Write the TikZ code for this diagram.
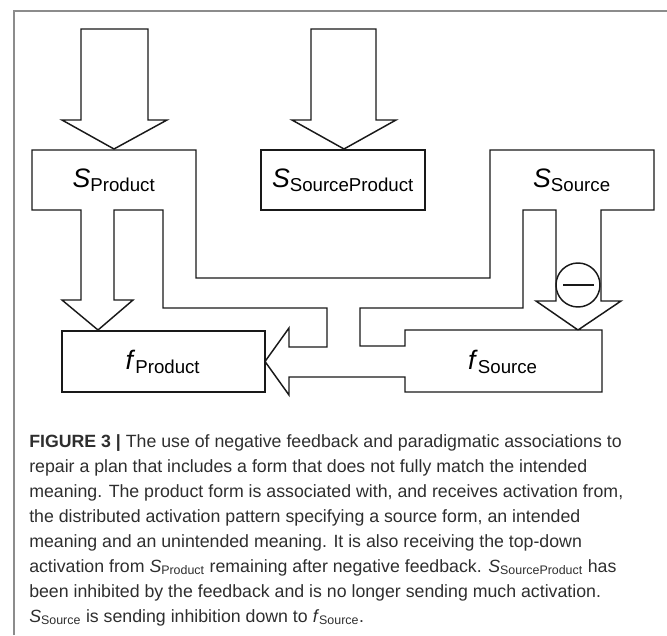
\documentclass[tikz,border=0pt]{standalone}
\usepackage{fontspec}
\setmainfont{Liberation Sans}
\usepackage{amsmath}
\usepackage{tikz}
\definecolor{framec}{HTML}{8C8C8C}
\definecolor{capc}{HTML}{2E2E2E}
\newcommand{\actlbl}[2]{\textit{#1}$_{\text{#2}}$}

\begin{document}
\begin{tikzpicture}[x=0.75pt,y=-0.75pt,
  blk/.style={draw=black!90,line width=1.1pt,line join=miter},
  lbl/.style={font=\fontsize{20}{24}\selectfont,inner sep=0pt}]
  \useasboundingbox (0,0) rectangle (667,635);
  % page frame, top and left only
  \draw[framec,line width=1pt] (14,635) -- (14,11) -- (667,11);
  % input arrows from above
  \draw[blk] (81,29) -- (148,29) -- (148,120) -- (167,120) -- (114,149) -- (62,120) -- (81,120) -- cycle;
  \draw[blk] (311,29) -- (376,29) -- (376,120) -- (396,120) -- (344,149) -- (292,120) -- (311,120) -- cycle;
  % S SourceProduct box
  \draw[blk] (261,150) -- (425,150) -- (425,210) -- (261,210) -- cycle;
  % S Product and S Source with their links, one outline
  \draw[blk] (32,150) -- (196,150) -- (196,278) -- (490,278) -- (490,150) -- (654,150)
    -- (654,210) -- (601,210) -- (601,301) -- (621,301) -- (578,330) -- (536,301)
    -- (556,301) -- (556,210) -- (523,210) -- (523,308) -- (360,308) -- (360,346)
    -- (405,346) -- (405,330) -- (602,330) -- (602,392) -- (405,392) -- (405,377)
    -- (289,377) -- (289,395) -- (265,361.5) -- (289,328) -- (289,347) -- (327,347)
    -- (327,308) -- (163,308) -- (163,210) -- (114,210) -- (114,300) -- (133,300)
    -- (98,330) -- (62,300) -- (81,300) -- (81,210) -- (32,210) -- cycle;
  % f Product box
  \draw[blk] (62,331) -- (265,331) -- (265,392) -- (62,392) -- cycle;
  % inhibition sign on the S Source arrow
  \draw[blk,fill=white] (578,285) circle (22);
  \draw[blk] (563,285) -- (594,285);
  % unit labels
  \node[lbl] (sprod) at (114,180) {\actlbl{S}{Product}};
  \node[lbl] (ssrcprod) at (343,180) {\actlbl{S}{SourceProduct}};
  \node[lbl] (ssrc) at (572,180) {\actlbl{S}{Source}};
  \node[lbl] (fprod) at (163,362) {\actlbl{f}{Product}};
  \node[lbl] (fsrc) at (503,362) {\actlbl{f}{Source}};
  % caption (base anchor sits on the last line)
  \node[anchor=base west,align=left,inner sep=0pt,text=capc,
        font=\fontsize{13.3}{18.75}\selectfont] (cap) at (29,622)
    {\textbf{FIGURE 3 |} The use of negative feedback and paradigmatic associations to\\
     repair a plan that includes a form that does not fully match the intended\\
     meaning. The product form is associated with, and receives activation from,\\
     the distributed activation pattern specifying a source form, an intended\\
     meaning and an unintended meaning. It is also receiving the top-down\\
     activation from \actlbl{S}{Product} remaining after negative feedback. \actlbl{S}{SourceProduct} has\\
     been inhibited by the feedback and is no longer sending much activation.\\
     \actlbl{S}{Source} is sending inhibition down to \actlbl{f}{Source}.};
\end{tikzpicture}
\end{document}
